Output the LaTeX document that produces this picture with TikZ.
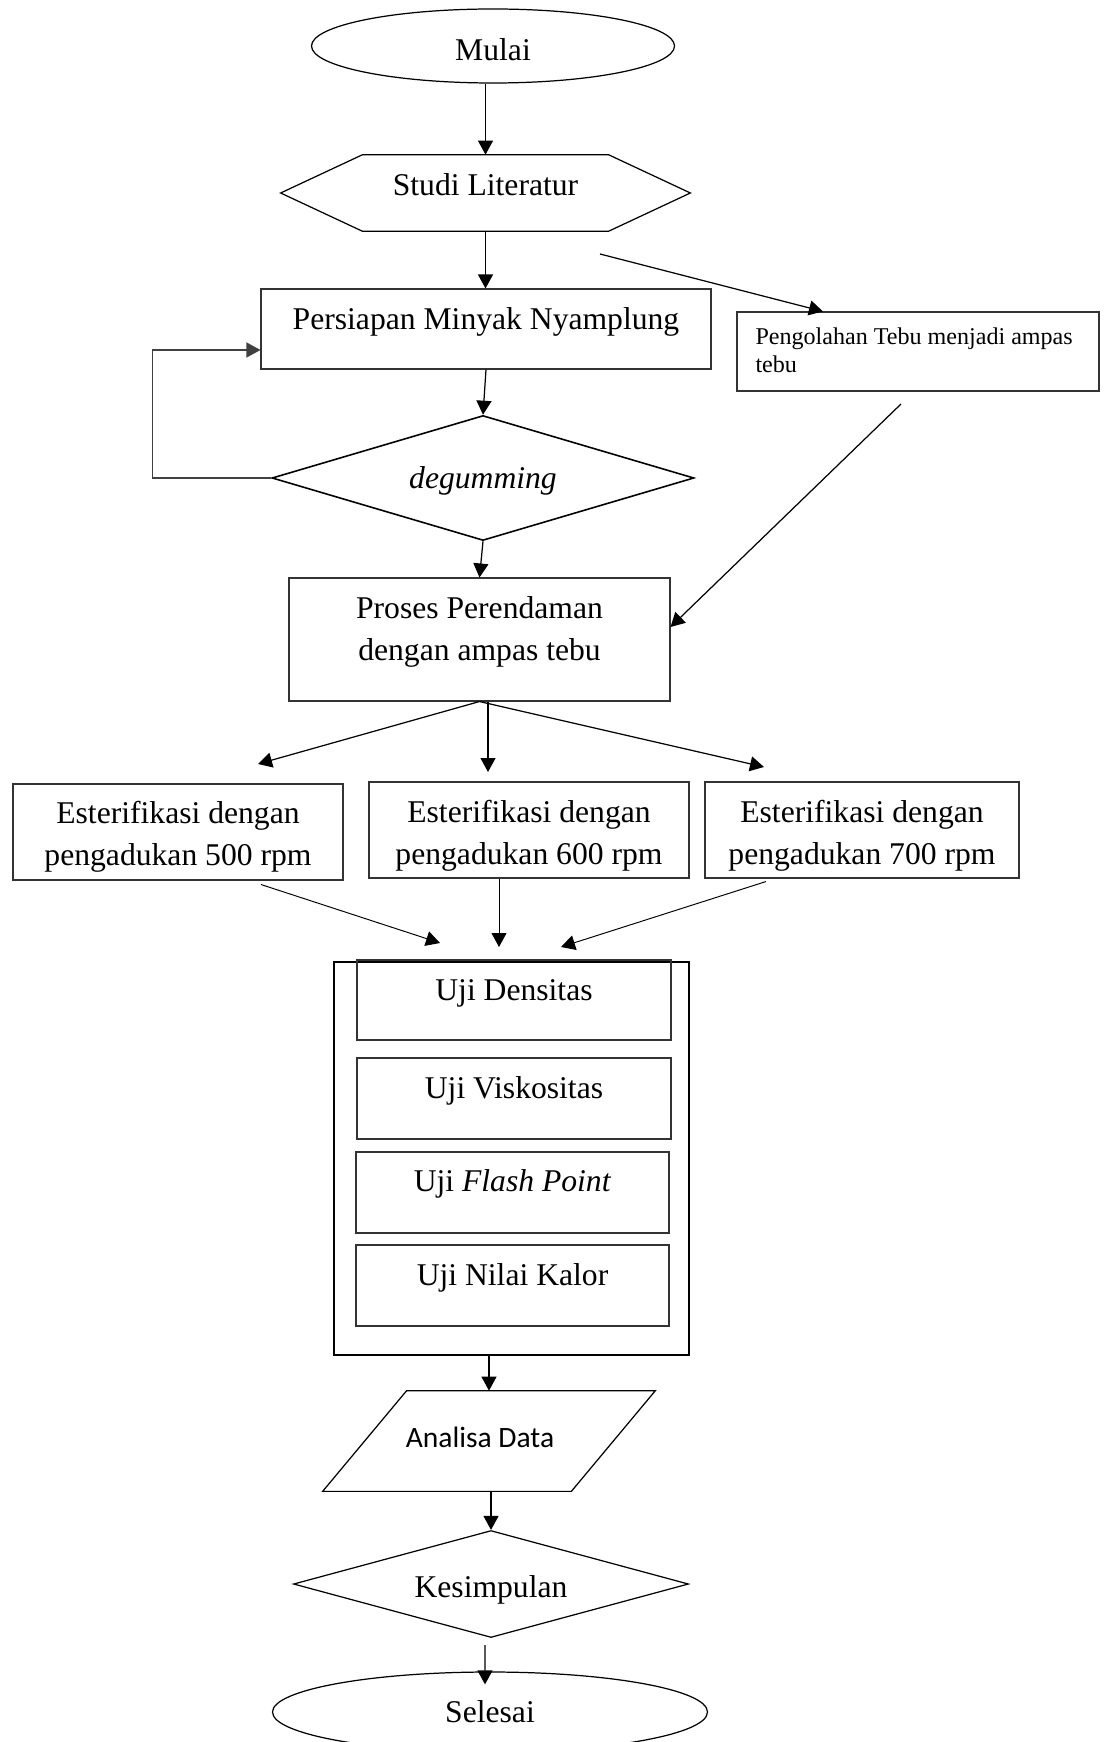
\documentclass[tikz,border=0pt]{standalone}
\usepackage{fontspec}
\setmainfont{Liberation Serif}
\newfontfamily\calibri{Carlito}
\usetikzlibrary{shapes.geometric,arrows.meta}

\tikzset{
  teks/.style={font=\fontsize{18}{24}\selectfont},
  terminal/.style={teks, ellipse, draw, line width=0.7pt, inner sep=0pt},
  kotak/.style={teks, rectangle, draw=black!80, line width=0.6pt, inner sep=0pt, align=flush center},
  pilihan/.style={teks, diamond, draw, inner sep=0pt},
  panah/.style={line width=0.7pt, -{Triangle[length=2.8mm,width=3mm]}},
}

\begin{document}
\begin{tikzpicture}[x=0.2mm, y=-0.2mm]
  \useasboundingbox (0,0) rectangle (1104,1742);

  % alur utama
  \node[terminal, minimum width=72.6mm, minimum height=14.8mm, text height=6mm, text depth=0mm] (mulai) at (493,46) {Mulai};
  \node[teks, minimum width=81.8mm, inner sep=0pt, text height=8.2mm, text depth=7mm] (studi) at (485.5,193) {Studi Literatur};
  \draw[line width=0.7pt] (studi.west) -- ([xshift=16.4mm]studi.north west) -- ([xshift=-16.4mm]studi.north east)
    -- (studi.east) -- ([xshift=-16.4mm]studi.south east) -- ([xshift=16.4mm]studi.south west) -- cycle;
  \node[kotak, text width=90mm, text height=8.2mm, text depth=7.8mm] (persiapan) at (486,329) {Persiapan Minyak Nyamplung};
  \node[kotak, align=flush left, font=\fontsize{13.7}{15.9}\selectfont, text width=65mm, inner xsep=3.7mm,
    text height=6.6mm, text depth=9.2mm] (pengolahan) at (918,351.5) {Pengolahan Tebu menjadi ampas\\tebu};
  \node[pilihan, line width=0.9pt, aspect=3.4, minimum width=84.4mm, minimum height=25mm, text height=4.4mm, text depth=0.3mm,
    font=\fontsize{18}{24}\selectfont\itshape] (degumming) at (483,478) {degumming};
  \node[kotak, text width=76.2mm, text height=8mm, text depth=16.6mm] (proses) at (479.5,639.5) {Proses Perendaman\\dengan ampas tebu};

  % variasi pengadukan
  \node[kotak, text width=66mm, text height=7.8mm, text depth=11.4mm] (est1) at (178,832) {Esterifikasi dengan\\pengadukan 500 rpm};
  \node[kotak, text width=64mm, text height=8mm, text depth=11.2mm] (est2) at (529,830) {Esterifikasi dengan\\pengadukan 600 rpm};
  \node[kotak, text width=62.8mm, text height=8mm, text depth=11.2mm] (est3) at (862,830) {Esterifikasi dengan\\pengadukan 700 rpm};

  % pengujian
  \node[draw, line width=1.4pt, minimum width=71mm, minimum height=78.6mm, inner sep=0pt] (uji) at (511.5,1158.5) {};
  \node[kotak, line width=0.8pt, text width=62.8mm, text height=8mm, text depth=8mm] (densitas) at (514,1000) {Uji Densitas};
  \node[kotak, line width=0.8pt, text width=62.8mm, text height=8mm, text depth=8.2mm] (viskositas) at (514,1098.5) {Uji Viskositas};
  \node[kotak, line width=0.8pt, text width=62.6mm, text height=7.8mm, text depth=8.4mm] (flash) at (512.5,1192.5) {Uji \textit{Flash Point}};
  \node[kotak, line width=0.8pt, text width=62.6mm, text height=8mm, text depth=8.2mm] (kalor) at (512.5,1285.5) {Uji Nilai Kalor};

  \node[inner sep=0pt, minimum width=66.4mm, font=\calibri\fontsize{16.8}{20}\selectfont,
    text height=11.2mm, text depth=8.8mm] (analisa) at (489,1441) {Analisa Data\kern3.6mm};
  \draw[line width=0.7pt] (analisa.south west) -- ([xshift=16.8mm]analisa.north west) -- (analisa.north east)
    -- ([xshift=-16.8mm]analisa.south east) -- cycle;
  \node[pilihan, line width=0.7pt, aspect=3.7, minimum width=79mm, minimum height=21.4mm, text height=5.5mm, text depth=0.2mm] (kesimpulan) at (491,1584) {Kesimpulan};
  \node[terminal, minimum width=87mm, minimum height=16mm] (selesai) at (490,1712) {Selesai};

  % ujung panah yang lepas
  \coordinate (pisah) at (600,254);
  \coordinate (ampas) at (901,404);
  \coordinate (ke500) at (258,764);
  \coordinate (ke600) at (488,772);
  \coordinate (ke700) at (764,767);
  \coordinate (masuk1) at (440,943);
  \coordinate (masuk2) at (499,947);
  \coordinate (masuk3) at (561,947);

  % panah
  \draw[panah] (studi.north |- mulai.south) -- (studi.north);
  \draw[panah] (studi.south) -- (studi.south |- persiapan.north);
  \draw[panah] (pisah) -- ([xshift=-19mm]pengolahan.north);
  \draw[panah] (persiapan.south) -- (degumming.north);
  \draw[panah, draw=black!75] (degumming.west) -- ++(-23.8mm,0) |- ([yshift=-4.2mm]persiapan.west);
  \draw[panah] (ampas) -- ([yshift=2.5mm]proses.east);
  \draw[panah] (degumming.south) -- (proses.north);
  \draw[panah] (proses.south) -- (ke500);
  \draw[panah] (proses.south -| ke600) -- (ke600);
  \draw[panah] (proses.south) -- (ke700);
  \draw[panah, line width=0.55pt] ([xshift=16.6mm,yshift=-0.8mm]est1.south) -- (masuk1);
  \draw[panah, line width=0.55pt] (est2.south -| masuk2) -- (masuk2);
  \draw[panah, line width=0.55pt] ([xshift=-19.2mm,yshift=-0.6mm]est3.south) -- (masuk3);
  \draw[panah] (uji.south -| analisa.north) -- (analisa.north);
  \draw[panah] (kesimpulan.north |- analisa.south) -- (kesimpulan.north);
  \draw[panah] ([xshift=-1.2mm,yshift=-1.4mm]kesimpulan.south) -- ([xshift=-1mm,yshift=-2.6mm]selesai.north);
\end{tikzpicture}
\end{document}
